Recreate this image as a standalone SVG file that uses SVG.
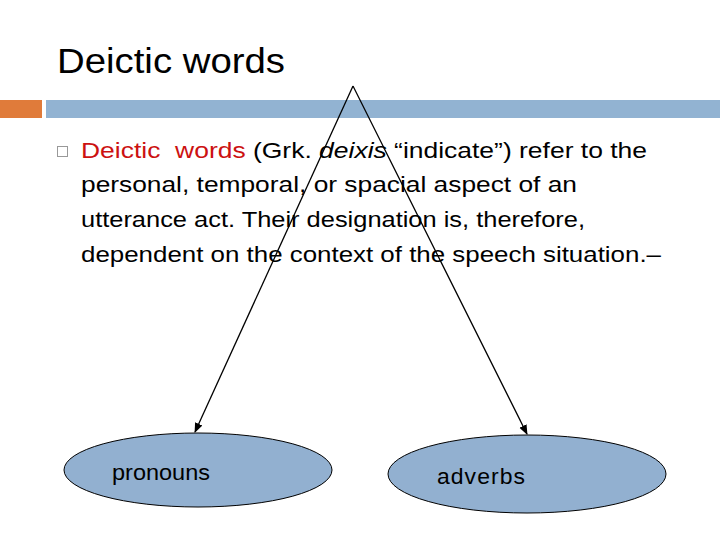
<svg xmlns="http://www.w3.org/2000/svg" width="720" height="540" viewBox="0 0 720 540">
<defs>
<style>
.t{font-family:"Liberation Sans","DejaVu Sans",sans-serif;fill:#000}
.body{font-size:22px}
.node{fill:#92b0d0;stroke:#000;stroke-width:1}
.conn{stroke:#000;stroke-width:1.3;fill:none}
</style>
<marker id="arr" markerWidth="10" markerHeight="10" refX="9" refY="5" orient="auto" markerUnits="userSpaceOnUse">
<path d="M0,1 L10,5 L0,9 z" fill="#000"/>
</marker>
</defs>
<rect width="720" height="540" fill="#fff"/>
<text class="t" x="57" y="73" font-size="35" textLength="228" lengthAdjust="spacingAndGlyphs">Deictic words</text>
<rect x="0" y="100" width="42" height="18" fill="#e07b3a"/>
<rect x="46" y="100" width="674" height="18" fill="#92b3d2"/>
<rect x="57.5" y="146.5" width="10" height="10" fill="none" stroke="#999" stroke-width="1"/>
<g class="t body">
<text x="81" y="158" textLength="566" lengthAdjust="spacingAndGlyphs" style="white-space:pre"><tspan fill="#cc1111">Deictic  words</tspan> (Grk. <tspan font-style="italic">deixis</tspan> “indicate”) refer to the</text>
<text x="81" y="192" textLength="496" lengthAdjust="spacingAndGlyphs">personal, temporal, or spacial aspect of an</text>
<text x="81" y="227" textLength="504" lengthAdjust="spacingAndGlyphs">utterance act. Their designation is, therefore,</text>
<text x="81" y="262" textLength="580" lengthAdjust="spacingAndGlyphs">dependent on the context of the speech situation.–</text>
</g>
<g id="connectors">
<line class="conn" x1="353" y1="86" x2="195" y2="432" marker-end="url(#arr)"/>
<line class="conn" x1="353" y1="86" x2="527" y2="434" marker-end="url(#arr)"/>
</g>
<g id="pronouns">
<ellipse class="node" cx="198" cy="470" rx="134" ry="37"/>
<text class="t" x="112" y="480" font-size="22" textLength="98" lengthAdjust="spacingAndGlyphs">pronouns</text>
</g>
<g id="adverbs">
<ellipse class="node" cx="527" cy="474" rx="139" ry="39"/>
<text class="t" x="437" y="484" font-size="22" textLength="89" lengthAdjust="spacingAndGlyphs" letter-spacing="1">adverbs</text>
</g>
</svg>
